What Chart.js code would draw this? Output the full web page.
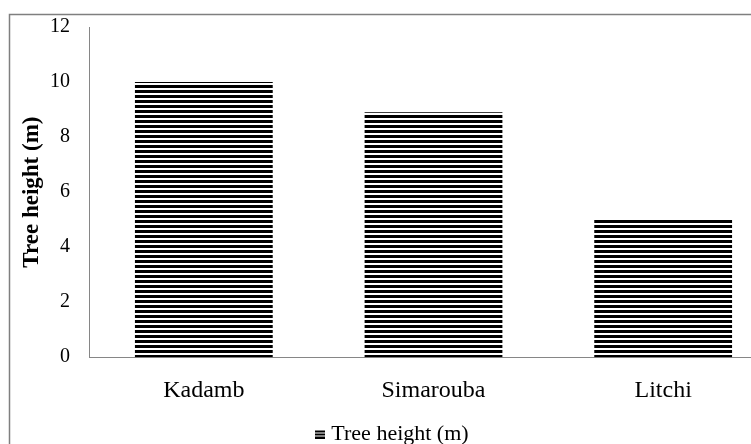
<!DOCTYPE html>
<html>
<head>
<meta charset="utf-8">
<script src="https://cdn.jsdelivr.net/npm/chart.js@4"></script>
<style>
html,body{margin:0;padding:0;background:#fff;overflow:hidden;}
#wrap{position:relative;width:790px;height:470px;}
</style>
</head>
<body>
<div id="wrap"><canvas id="c"></canvas></div>
<script>
const categories = ["Kadamb", "Simarouba", "Litchi"];
const treeHeight = [10.0, 8.9, 5.0];
const yTicks = [0, 2, 4, 6, 8, 10, 12];
const seriesName = "Tree height (m)";

const FONT = "'Liberation Serif', 'Times New Roman', serif";

// horizontal stripe pattern
const pc = document.createElement('canvas');
pc.width = 8; pc.height = 5;
const px = pc.getContext('2d');
px.fillStyle = '#fff'; px.fillRect(0,0,8,5);
px.fillStyle = '#000'; px.fillRect(0,0,8,3);
const stripe = document.getElementById('c').getContext('2d').createPattern(pc,'repeat');

// legend icon (three lines)
const ic = document.createElement('canvas');
ic.width = 10; ic.height = 9;
const ix = ic.getContext('2d');
ix.fillStyle = '#000';
ix.fillRect(0,1,10,2); ix.fillRect(0,4,10,2); ix.fillRect(0,7,10,2);

const frame = {
  id: 'frame',
  beforeDraw(chart){
    const c = chart.ctx;
    c.save();
    c.strokeStyle = '#7f7f7f';
    c.lineWidth = 1.5;
    c.strokeRect(9.5, 14.5, 770, 450);
    c.restore();
  }
};

new Chart(document.getElementById('c'), {
  type: 'bar',
  data: {
    labels: categories,
    datasets: [{
      label: seriesName,
      data: treeHeight,
      backgroundColor: stripe,
      borderWidth: 0,
      categoryPercentage: 1.0,
      barPercentage: 0.6
    }]
  },
  options: {
    responsive: true,
    maintainAspectRatio: false,
    animation: false,
    layout: { padding: { left: 10, top: 27, right: 12, bottom: 15 } },
    plugins: {
      tooltip: { enabled: false },
      legend: {
        position: 'bottom',
        labels: {
          usePointStyle: true,
          pointStyle: ic,
          pointStyleWidth: 1,
          color: '#000',
          font: { family: FONT, size: 22 },
          padding: 7
        }
      }
    },
    scales: {
      x: {
        grid: { display: false },
        border: { display: true, color: '#868686', width: 1 },
        ticks: { color: '#000', font: { family: FONT, size: 24 }, padding: 11 }
      },
      y: {
        min: 0, max: 12,
        afterFit(scale){ scale.width = 79; },
        afterBuildTicks(scale){ scale.ticks = yTicks.map(v => ({ value: v })); },
        grid: { display: false },
        border: { display: true, color: '#868686', width: 1 },
        ticks: { color: '#000', font: { family: FONT, size: 20 }, padding: 11 },
        title: {
          display: true,
          text: seriesName,
          color: '#000',
          font: { family: FONT, size: 23, weight: 'bold' },
          padding: { top: 8, bottom: 0 }
        }
      }
    }
  },
  plugins: [frame]
});
</script>
</body>
</html>
